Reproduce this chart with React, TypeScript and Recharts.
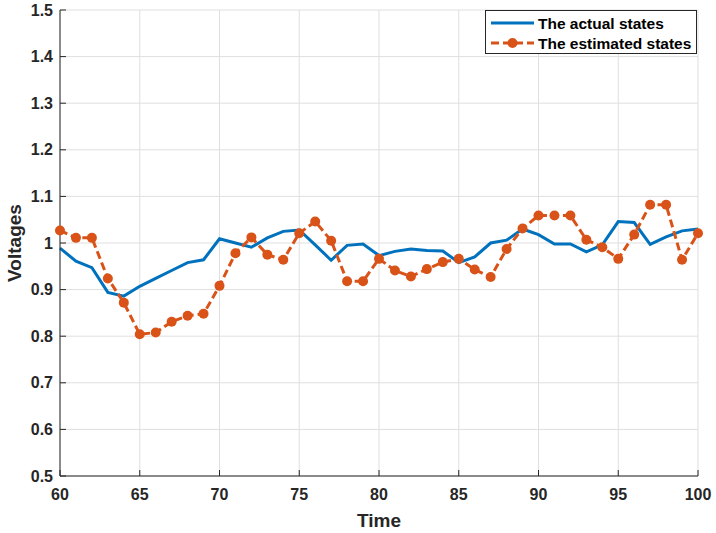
import React from 'react';
import { LineChart, Line, XAxis, YAxis, CartesianGrid, Legend } from 'recharts';

const time = [
    60, 61, 62, 63, 64, 65, 66, 67, 68, 69, 70, 71, 72, 73, 74, 75, 76, 77, 78, 79, 80,
    81, 82, 83, 84, 85, 86, 87, 88, 89, 90, 91, 92, 93, 94, 95, 96, 97, 98, 99, 100,
];
const actualStates = [
    0.989, 0.961, 0.947, 0.894, 0.886, 0.907, 0.924, 0.941, 0.958, 0.964, 1.009,
    1.0, 0.991, 1.011, 1.025, 1.028, 0.996, 0.963, 0.995, 0.998, 0.973,
    0.982, 0.987, 0.984, 0.983, 0.958, 0.97, 1.0, 1.006, 1.03, 1.018,
    0.998, 0.998, 0.981, 0.996, 1.046, 1.044, 0.997, 1.013, 1.026, 1.03,
];
const estimatedStates = [
    1.027, 1.011, 1.011, 0.924, 0.872, 0.804, 0.808, 0.831, 0.844, 0.848, 0.908,
    0.978, 1.012, 0.975, 0.964, 1.021, 1.046, 1.005, 0.918, 0.918, 0.966,
    0.941, 0.928, 0.944, 0.959, 0.966, 0.943, 0.927, 0.987, 1.031, 1.059,
    1.059, 1.059, 1.007, 0.991, 0.966, 1.018, 1.082, 1.082, 0.964, 1.021,
];
const seriesNames = ['The actual states', 'The estimated states'];
const xTicks = [60, 65, 70, 75, 80, 85, 90, 95, 100];
const yTicks = [0.5, 0.6, 0.7, 0.8, 0.9, 1, 1.1, 1.2, 1.3, 1.4, 1.5];

const data = time.map((t, i) => ({ time: t, actual: actualStates[i], estimated: estimatedStates[i] }));

const AXIS = '#262626';
const BLUE = '#0072BD';
const ORANGE = '#D95319';
const FONT = '"Liberation Sans", Arial, Helvetica, sans-serif';
const TICK_LEN = 6;

const fmt = (v: number) => (Number.isInteger(v) ? String(v) : v.toFixed(1));

// matlab style: ticks point inward on all four sides
function BottomTick({ x, y, payload }: any) {
    const axisY = y - 13;
    return (
        <g>
            <line x1={x} x2={x} y1={axisY} y2={axisY - TICK_LEN} stroke={AXIS} />
            <text x={x} y={y} dy="0.71em" textAnchor="middle" fontFamily={FONT} fontSize={16} fontWeight="bold" fill={AXIS}>
                {fmt(payload.value)}
            </text>
        </g>
    );
}

function LeftTick({ x, y, payload }: any) {
    const axisX = x + 7;
    return (
        <g>
            <line x1={axisX} x2={axisX + TICK_LEN} y1={y} y2={y} stroke={AXIS} />
            <text x={x} y={y} dy="0.355em" textAnchor="end" fontFamily={FONT} fontSize={16} fontWeight="bold" fill={AXIS}>
                {fmt(payload.value)}
            </text>
        </g>
    );
}

function TopTick({ x, y }: any) {
    return <line x1={x} x2={x} y1={y} y2={y + TICK_LEN} stroke={AXIS} />;
}

function RightTick({ x, y }: any) {
    return <line x1={x - TICK_LEN} x2={x} y1={y} y2={y} stroke={AXIS} />;
}

function LegendBox({ payload }: any) {
    const items = payload || [];
    return (
        <div style={{ width: 212, height: 44, boxSizing: 'border-box', border: `1px solid ${AXIS}`, background: '#fff' }}>
            <svg width={210} height={42} style={{ display: 'block' }}>
                {items.map((item: any, i: number) => {
                    const cy = 12 + i * 20;
                    const dashed = item.payload && item.payload.strokeDasharray;
                    return (
                        <g key={item.value}>
                            <line x1={5} x2={48} y1={cy} y2={cy} stroke={item.color} strokeWidth={3} strokeDasharray={dashed} />
                            {dashed && <circle cx={26.5} cy={cy} r={5} fill={item.color} />}
                            <text x={52} y={cy} dy="0.355em" fontFamily={FONT} fontSize={15.5} fontWeight="bold" fill="#000">
                                {item.value}
                            </text>
                        </g>
                    );
                })}
            </svg>
        </div>
    );
}

export default function App() {
    return (
        <div style={{ position: 'absolute', left: 0, top: 0, background: '#fff', fontFamily: FONT }}>
            <LineChart width={716} height={533} data={data} margin={{ top: 10, right: 18, bottom: 0, left: 0 }}>
                <CartesianGrid stroke="#dfdfdf" strokeWidth={1} />
                <XAxis
                    dataKey="time"
                    type="number"
                    domain={[60, 100]}
                    ticks={xTicks}
                    height={57}
                    tickSize={0}
                    tickMargin={13}
                    tickLine={false}
                    axisLine={{ stroke: AXIS }}
                    tick={(p: any) => <BottomTick {...p} />}
                    label={({ viewBox }: any) => (
                        <text
                            x={viewBox.x + viewBox.width / 2}
                            y={viewBox.y + 51}
                            textAnchor="middle"
                            fontFamily={FONT}
                            fontSize={19}
                            fontWeight="bold"
                            fill={AXIS}
                        >
                            Time
                        </text>
                    )}
                />
                <XAxis
                    xAxisId="top"
                    dataKey="time"
                    type="number"
                    orientation="top"
                    domain={[60, 100]}
                    ticks={xTicks}
                    height={0}
                    tickSize={0}
                    tickMargin={0}
                    tickLine={false}
                    axisLine={{ stroke: AXIS }}
                    tick={(p: any) => <TopTick {...p} />}
                />
                <YAxis
                    type="number"
                    domain={[0.5, 1.5]}
                    ticks={yTicks}
                    width={60}
                    tickSize={0}
                    tickMargin={7}
                    tickLine={false}
                    axisLine={{ stroke: AXIS }}
                    tick={(p: any) => <LeftTick {...p} />}
                    label={({ viewBox }: any) => {
                        const cx = 21;
                        const cy = viewBox.y + viewBox.height / 2;
                        return (
                            <text
                                x={cx}
                                y={cy}
                                transform={`rotate(-90 ${cx} ${cy})`}
                                textAnchor="middle"
                                fontFamily={FONT}
                                fontSize={19}
                                fontWeight="bold"
                                fill={AXIS}
                            >
                                Voltages
                            </text>
                        );
                    }}
                />
                <YAxis
                    yAxisId="right"
                    orientation="right"
                    type="number"
                    domain={[0.5, 1.5]}
                    ticks={yTicks}
                    width={0}
                    tickSize={0}
                    tickMargin={0}
                    tickLine={false}
                    axisLine={{ stroke: AXIS }}
                    tick={(p: any) => <RightTick {...p} />}
                />
                <Legend
                    layout="vertical"
                    align="center"
                    verticalAlign="middle"
                    wrapperStyle={{ top: 10, left: 485, width: 212 }}
                    content={(p: any) => <LegendBox {...p} />}
                />
                <Line
                    type="linear"
                    dataKey="actual"
                    name={seriesNames[0]}
                    stroke={BLUE}
                    strokeWidth={3}
                    dot={false}
                    activeDot={false}
                    isAnimationActive={false}
                />
                <Line
                    type="linear"
                    dataKey="estimated"
                    name={seriesNames[1]}
                    stroke={ORANGE}
                    strokeWidth={3}
                    strokeDasharray="8 4"
                    dot={{ r: 5, fill: ORANGE, stroke: 'none', strokeDasharray: '' }}
                    activeDot={false}
                    isAnimationActive={false}
                />
            </LineChart>
        </div>
    );
}
